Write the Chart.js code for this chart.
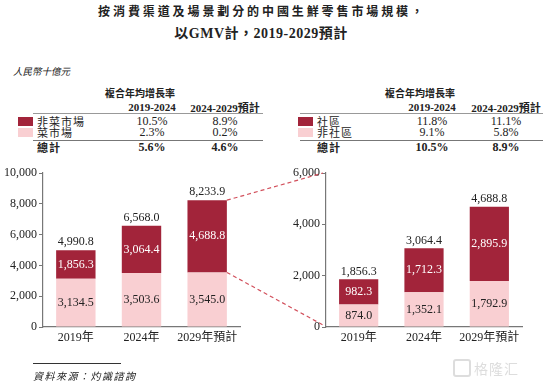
<!DOCTYPE html>
<html><head><meta charset="utf-8">
<script src="https://cdn.jsdelivr.net/npm/chart.js@4"></script>
<style>
html,body{margin:0;padding:0;background:#fff;}
body{width:553px;height:383px;position:relative;overflow:hidden;font-family:"Liberation Serif","Noto Sans CJK TC",serif;color:#222;}
.a{position:absolute;white-space:nowrap;}
.c{transform:translate(-50%,-50%);}
.l{transform:translate(0,-50%);}
.hl{position:absolute;height:0;}
.sw{position:absolute;width:15px;height:9px;}
canvas{position:absolute;}
</style></head><body>
<div class="a c" style="left:262px;top:10px;font-family:'Noto Sans CJK TC';font-weight:bold;font-size:12px;letter-spacing:2.9px;">按消費渠道及場景劃分的中國生鮮零售市場規模，</div>
<div class="a c" style="left:261px;top:32px;font-weight:bold;font-size:14px;letter-spacing:0.5px;">以GMV計，2019-2029預計</div>
<div class="a l" style="left:13px;top:71px;font-family:'Noto Sans CJK TC';font-style:italic;font-size:9.5px;">人民幣十億元</div>
<div id="tables"></div>
<canvas id="c1" width="250" height="190" style="left:0;top:160px;width:250px;height:190px;"></canvas>
<canvas id="c2" width="250" height="190" style="left:280px;top:160px;width:250px;height:190px;"></canvas>
<canvas id="ov" width="553" height="383" style="left:0;top:0;width:553px;height:383px;pointer-events:none;"></canvas>
<div class="hl" style="left:33px;top:363px;width:88px;border-top:1px solid #333;"></div>
<div class="a l" style="left:33px;top:375px;font-family:'Noto Sans CJK TC';font-style:italic;font-size:10px;letter-spacing:1.5px;">資料來源：灼識諮詢</div>
<div class="a l" style="left:453px;top:368px;font-family:'Noto Sans CJK SC';font-size:14px;color:#ddd;letter-spacing:1px;"><span style="display:inline-block;width:14px;height:14px;border:2px solid #ddd;border-radius:3px;vertical-align:-3px;margin-right:3px;"></span>格隆汇</div>
<script>
const years = ["2019年", "2024年", "2029年預計"];
// left chart: by channel
const nonWetMarket = [1856.3, 3064.4, 4688.8];
const wetMarket = [3134.5, 3503.6, 3545.0];
const leftTotals = ["4,990.8", "6,568.0", "8,233.9"];
const leftTicks = [0, 2000, 4000, 6000, 8000, 10000];
// right chart: by scenario
const community = [982.3, 1712.3, 2895.9];
const nonCommunity = [874.0, 1352.1, 1792.9];
const rightTotals = ["1,856.3", "3,064.4", "4,688.8"];
const rightTicks = [0, 2000, 4000, 6000];
// CAGR tables
const cagrHeaders = ["2019-2024", "2024-2029預計"];
const leftRows = [["非菜市場", "10.5%", "8.9%"], ["菜市場", "2.3%", "0.2%"]];
const leftTotalRow = ["總計", "5.6%", "4.6%"];
const rightRows = [["社區", "11.8%", "11.1%"], ["非社區", "9.1%", "5.8%"]];
const rightTotalRow = ["總計", "10.5%", "8.9%"];

const DARK = "#a2243a", LIGHT = "#f9cfd2";
const SERIF = '"Liberation Serif","Noto Sans CJK TC",serif';

function buildTable(x0, title, rows, total, colX, lineL, lineR) {
  let h = '';
  h += `<div class="a c" style="left:${x0+140}px;top:92px;font-family:'Noto Sans CJK TC';font-weight:bold;font-size:10px;">${title}</div>`;
  cagrHeaders.forEach((t,i)=>{ h += `<div class="a c" style="left:${x0+colX[i]}px;top:107px;font-weight:bold;font-size:11px;">${t}</div>`; });
  h += `<div class="hl" style="left:${x0+lineL}px;top:113px;width:${lineR-lineL}px;border-top:1px solid #999;"></div>`;
  const ys = [121, 132];
  rows.forEach((r,i)=>{
    h += `<div class="sw" style="left:${x0+18}px;top:${ys[i]-4.5}px;background:${i==0?DARK:LIGHT};"></div>`;
    h += `<div class="a l" style="left:${x0+37}px;top:${ys[i]}px;font-family:'Noto Sans CJK TC';font-size:11px;letter-spacing:1px;">${r[0]}</div>`;
    h += `<div class="a c" style="left:${x0+colX[0]}px;top:${ys[i]}px;font-size:12px;">${r[1]}</div>`;
    h += `<div class="a c" style="left:${x0+colX[1]}px;top:${ys[i]}px;font-size:12px;">${r[2]}</div>`;
  });
  h += `<div class="hl" style="left:${x0+lineL}px;top:139.5px;width:${lineR-lineL}px;border-top:1.5px solid #777;"></div>`;
  h += `<div class="a l" style="left:${x0+37}px;top:147px;font-family:'Noto Sans CJK TC';font-weight:bold;font-size:11px;letter-spacing:1px;">${total[0]}</div>`;
  h += `<div class="a c" style="left:${x0+colX[0]}px;top:147px;font-weight:bold;font-size:12px;">${total[1]}</div>`;
  h += `<div class="a c" style="left:${x0+colX[1]}px;top:147px;font-weight:bold;font-size:12px;">${total[2]}</div>`;
  return h;
}
document.getElementById('tables').innerHTML =
  buildTable(0, "複合年均增長率", leftRows, leftTotalRow, [152, 225], 33, 263) +
  buildTable(280, "複合年均增長率", rightRows, rightTotalRow, [152, 226], 20, 263);

const labelPlugin = {
  id: 'labels',
  afterDatasetsDraw(chart, args, opts) {
    const ctx = chart.ctx;
    ctx.save();
    ctx.font = '12px ' + SERIF;
    ctx.textAlign = 'center';
    ctx.textBaseline = 'middle';
    chart.data.datasets.forEach((ds, di) => {
      const meta = chart.getDatasetMeta(di);
      meta.data.forEach((bar, i) => {
        const v = ds.data[i];
        const y = (bar.y + bar.base) / 2;
        ctx.fillStyle = di === 1 ? '#fff' : '#222';
        ctx.fillText(v.toLocaleString('en-US', {minimumFractionDigits:1, maximumFractionDigits:1}), bar.x, y);
      });
    });
    const top = chart.getDatasetMeta(1);
    top.data.forEach((bar, i) => {
      ctx.fillStyle = '#222';
      ctx.fillText(opts.totals[i], bar.x, bar.y - 8);
    });
    ctx.restore();
  }
};

function makeChart(id, low, high, totals, ticks, yWidth, padRight) {
  return new Chart(document.getElementById(id), {
    type: 'bar',
    data: {
      labels: years,
      datasets: [
        { data: low, backgroundColor: LIGHT, borderWidth: 0 },
        { data: high, backgroundColor: DARK, borderWidth: 0 }
      ]
    },
    options: {
      responsive: false, animation: false,
      layout: { padding: { top: 13, right: padRight, left: 0, bottom: 0 } },
      plugins: { legend: { display: false }, tooltip: { enabled: false }, labels: { totals } },
      datasets: { bar: { categoryPercentage: 0.6, barPercentage: 1 } },
      scales: {
        x: {
          stacked: true,
          grid: { display: false, drawTicks: false },
          border: { color: '#777', width: 1.2 },
          ticks: { color: '#222', font: { family: SERIF, size: 12 }, padding: 4,
            minRotation: 0, maxRotation: 0, autoSkip: false },
          afterFit(s) { s.height = 23; }
        },
        y: {
          stacked: true, min: ticks[0], max: ticks[ticks.length-1],
          afterBuildTicks(s) { s.ticks = ticks.map(v => ({ value: v })); },
          grid: { drawOnChartArea: false, drawTicks: true, tickLength: 4, color: '#777' },
          border: { color: '#777', width: 1.2 },
          ticks: { color: '#222', font: { family: SERIF, size: 12 }, padding: 2,
            callback: v => v.toLocaleString('en-US') },
          afterFit(s) { s.width = yWidth; }
        }
      }
    },
    plugins: [labelPlugin]
  });
}

const ch1 = makeChart('c1', wetMarket, nonWetMarket, leftTotals, leftTicks, 43, 10);
const ch2 = makeChart('c2', nonCommunity, community, rightTotals, rightTicks, 46, 8);

// dashed connectors from the 2029 bar's dark segment to the right chart's axis
(function(){
  const ov = document.getElementById('ov').getContext('2d');
  const o1 = {x:0, y:160}, o2 = {x:280, y:160};
  const topBar = ch1.getDatasetMeta(1).data[2];
  const lowBar = ch1.getDatasetMeta(0).data[2];
  const x1 = o1.x + topBar.x + topBar.width/2;
  const yTop = o1.y + topBar.y;
  const yMid = o1.y + lowBar.y;
  const ax = o2.x + ch2.chartArea.left;
  const yMax = o2.y + ch2.scales.y.getPixelForValue(rightTicks[rightTicks.length-1]);
  const y0 = o2.y + ch2.scales.y.getPixelForValue(0);
  ov.strokeStyle = '#d2505c';
  ov.lineWidth = 1.2;
  ov.setLineDash([4,3]);
  ov.beginPath(); ov.moveTo(x1, yTop); ov.lineTo(ax-3, yMax); ov.stroke();
  ov.beginPath(); ov.moveTo(x1, yMid); ov.lineTo(ax-3, y0-2); ov.stroke();
})();
</script>
</body></html>
